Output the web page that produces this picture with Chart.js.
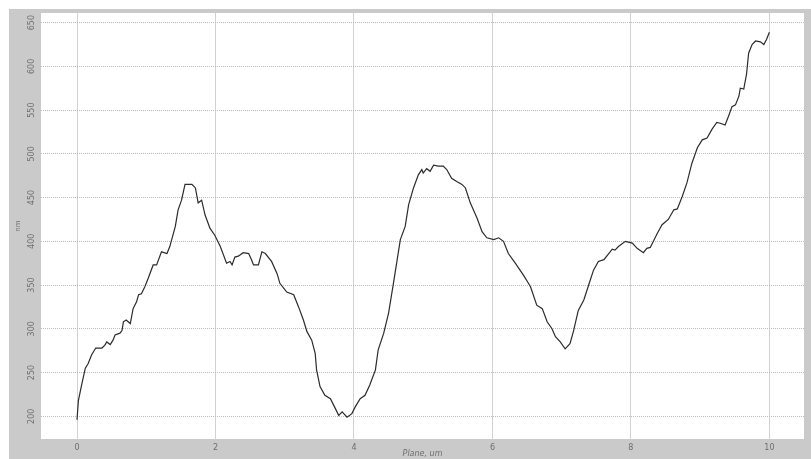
<!DOCTYPE html>
<html>
<head>
<meta charset="utf-8">
<script src="https://cdn.jsdelivr.net/npm/chart.js@4/dist/chart.umd.min.js"></script>
<style>
  html, body { margin: 0; padding: 0; background: #ffffff; }
  #wrap { width: 811px; height: 459px; position: relative; }
</style>
</head>
<body>
<div id="wrap"><canvas id="profile" width="811" height="459"></canvas></div>
<script>
// Surface profile: position along the scan line (um) and height (nm)
const positionX = [0,0.02,0.07,0.12,0.16,0.21,0.27,0.36,0.40,0.43,
  0.48,0.52,0.55,0.62,0.65,0.67,0.71,0.77,0.81,0.86,
  0.89,0.93,0.98,1.03,1.10,1.15,1.22,1.30,1.34,1.42,
  1.46,1.51,1.56,1.66,1.71,1.75,1.80,1.85,1.92,1.99,
  2.07,2.16,2.21,2.24,2.28,2.33,2.40,2.48,2.52,2.55,
  2.62,2.67,2.72,2.81,2.89,2.93,3.03,3.13,3.20,3.27,
  3.32,3.39,3.44,3.46,3.51,3.58,3.66,3.73,3.78,3.83,
  3.90,3.97,4.02,4.09,4.16,4.23,4.31,4.35,4.43,4.50,
  4.57,4.67,4.74,4.79,4.86,4.93,4.98,5.00,5.05,5.10,
  5.15,5.22,5.29,5.34,5.41,5.49,5.56,5.61,5.68,5.78,
  5.85,5.92,6.02,6.09,6.16,6.23,6.33,6.45,6.52,6.55,
  6.64,6.72,6.79,6.86,6.91,6.98,7.05,7.12,7.17,7.24,
  7.32,7.39,7.46,7.53,7.61,7.68,7.73,7.77,7.82,7.92,
  8.02,8.09,8.18,8.23,8.28,8.38,8.45,8.54,8.62,8.67,
  8.74,8.81,8.88,8.96,9.03,9.10,9.17,9.24,9.29,9.36,
  9.41,9.46,9.51,9.56,9.58,9.63,9.67,9.70,9.75,9.80,
  9.87,9.92,9.96,10.00];

const heightNm = [196,218,237,255,260,270,278,278,281,285,
  282,287,293,295,298,308,310,306,323,331,
  339,340,348,358,373,373,388,386,394,417,
  436,447,465,465,461,444,447,430,415,407,
  394,375,377,373,382,383,387,386,379,373,
  373,388,386,377,363,352,342,339,325,310,
  297,287,272,253,234,224,220,209,201,205,
  199,203,211,220,224,236,253,276,295,318,
  352,402,417,442,461,476,482,478,483,480,
  487,486,486,482,472,468,465,461,444,426,
  411,404,402,404,400,386,375,361,352,348,
  327,323,308,300,291,285,277,283,297,321,
  333,350,367,377,379,386,391,390,394,400,
  398,392,387,392,393,409,419,425,436,437,
  451,467,489,507,516,518,528,536,535,533,
  543,554,556,566,575,574,591,615,625,629,
  628,625,631,639];

const xTickValues = [0, 2, 4, 6, 8, 10];
const yTickValues = [200, 250, 300, 350, 400, 450, 500, 550, 600, 650];

const points = positionX.map((x, i) => ({ x: x, y: heightNm[i] }));

// Grey frame behind the axes, white plotting area
const framePlugin = {
  id: 'frame',
  beforeDraw(chart) {
    const { ctx, chartArea: a, width, height } = chart;
    ctx.save();
    ctx.fillStyle = '#ffffff';
    ctx.fillRect(0, 0, width, height);
    ctx.fillStyle = '#cacaca';
    ctx.fillRect(9, 9, width - 9, height - 9);
    ctx.fillStyle = '#ffffff';
    ctx.fillRect(a.left, a.top, a.right - a.left, a.bottom - a.top);
    ctx.restore();
  }
};

new Chart(document.getElementById('profile'), {
  type: 'line',
  data: {
    datasets: [{
      data: points,
      borderColor: '#2b2b2b',
      borderWidth: 1.2,
      pointRadius: 0,
      tension: 0,
      fill: false
    }]
  },
  options: {
    responsive: false,
    animation: false,
    layout: { padding: { top: 13, right: 7, left: 0, bottom: 0 } },
    plugins: { legend: { display: false }, tooltip: { enabled: false } },
    scales: {
      x: {
        type: 'linear',
        min: -0.52,
        max: 10.5,
        afterBuildTicks(scale) { scale.ticks = xTickValues.map(v => ({ value: v })); },
        afterFit(scale) { scale.height = 20; },
        grid: { color: '#d2d2d2', lineWidth: 1, drawTicks: false },
        border: { display: false },
        ticks: {
          padding: 4,
          color: '#6e6e6e',
          font: { family: 'DejaVu Sans', size: 8 }
        },
        title: {
          display: true,
          text: 'Plane, um',
          color: '#6e6e6e',
          padding: { top: 0, bottom: 0 },
          font: { family: 'DejaVu Sans', size: 8, style: 'italic' }
        }
      },
      y: {
        type: 'linear',
        min: 174,
        max: 661,
        afterBuildTicks(scale) { scale.ticks = yTickValues.map(v => ({ value: v })); },
        afterFit(scale) { scale.width = 41; },
        grid: { color: '#bdbdbd', lineWidth: 1, drawTicks: false },
        border: { display: false, dash: [1, 1] },
        ticks: {
          padding: 1,
          minRotation: 90,
          maxRotation: 90,
          crossAlign: 'center',
          color: '#6e6e6e',
          font: { family: 'DejaVu Sans', size: 8 }
        },
        title: {
          display: true,
          text: 'nm',
          color: '#6e6e6e',
          padding: { top: 14, bottom: 0 },
          font: { family: 'DejaVu Sans', size: 7 }
        }
      }
    }
  },
  plugins: [framePlugin]
});
</script>
</body>
</html>
